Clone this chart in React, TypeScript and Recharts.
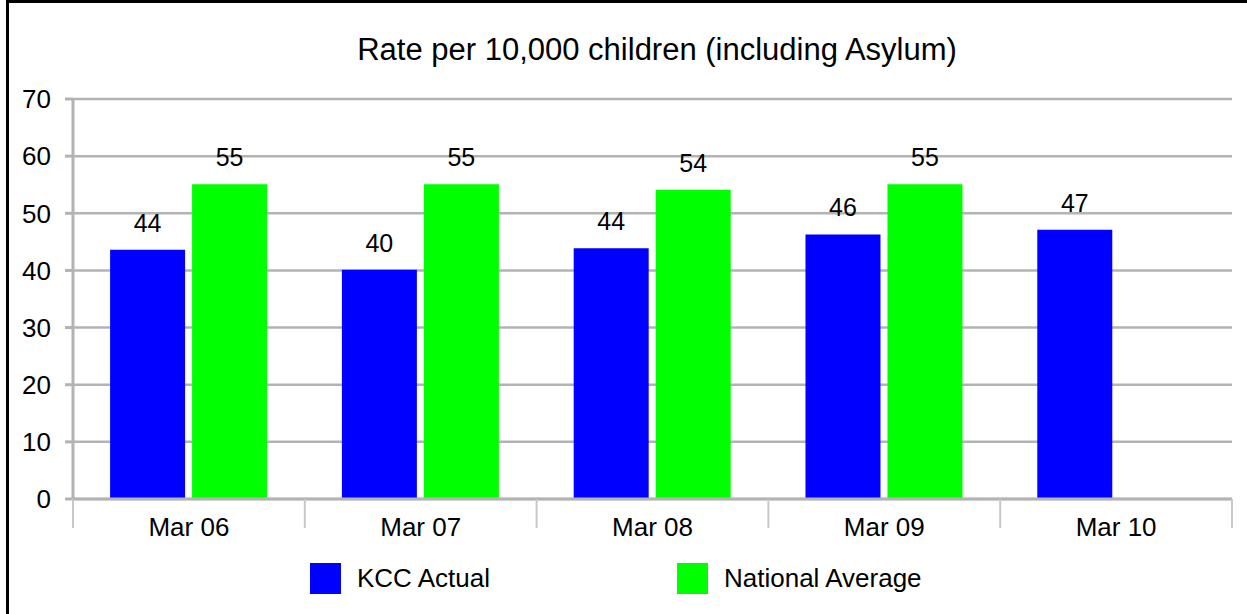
import React from 'react';
import { BarChart, Bar, XAxis, YAxis, CartesianGrid, Legend, LabelList } from 'recharts';

const periods = ['Mar 06', 'Mar 07', 'Mar 08', 'Mar 09', 'Mar 10'];
const kccActual = [43.6, 40.1, 43.9, 46.3, 47.1];
const nationalAverage: (number | null)[] = [55.1, 55.1, 54.1, 55.1, null];
const yTicks = [0, 10, 20, 30, 40, 50, 60, 70];

const series = [
    { key: 'kcc', name: 'KCC Actual', color: '#0000FF' },
    { key: 'national', name: 'National Average', color: '#00FF00' },
];

const data = periods.map((period, i) => ({
    period,
    kcc: kccActual[i],
    national: nationalAverage[i],
}));

const FONT = '"Liberation Sans", Arial, sans-serif';
const GRID = '#b3b3b3';

const CategoryTick = (props: any) => {
    const { x, y, payload, index, width, visibleTicksCount } = props;
    const half = width && visibleTicksCount ? width / visibleTicksCount / 2 : 116;
    const last = index === visibleTicksCount - 1;
    return (
        <g>
            <line x1={x - half} x2={x - half} y1={y} y2={y + 29} stroke="#c8c8c8" strokeWidth={2} />
            {last && <line x1={x + half} x2={x + half} y1={y} y2={y + 29} stroke="#c8c8c8" strokeWidth={2} />}
            <text x={x} y={y + 37} textAnchor="middle" fill="#000" fontSize={26} fontFamily={FONT}>
                {payload.value}
            </text>
        </g>
    );
};

const LegendContent = () => (
    <div style={{ display: 'flex', paddingLeft: 310, fontFamily: FONT, fontSize: 26, color: '#000' }}>
        {series.map((s) => (
            <div key={s.key} style={{ display: 'flex', alignItems: 'center', width: 367 }}>
                <span style={{ display: 'inline-block', width: 31, height: 31, background: s.color, marginRight: 16 }} />
                <span>{s.name}</span>
            </div>
        ))}
    </div>
);

const App: React.FC = () => {
    return (
        <div style={{ position: 'fixed', left: 0, top: 0, width: 1247, height: 614, overflow: 'hidden', background: '#fff', fontFamily: FONT }}>
            <div style={{ position: 'absolute', left: 6, top: 0, width: 1280, height: 660, border: '3px solid #000' }} />
            <div style={{ position: 'absolute', left: 0, top: 34, width: 1314, textAlign: 'center', fontSize: 31, lineHeight: '31px', color: '#000' }}>
                Rate per 10,000 children (including Asylum)
            </div>
            <div style={{ position: 'absolute', left: 0, top: 0 }}>
                <BarChart
                    width={1247}
                    height={614}
                    data={data}
                    margin={{ top: 99, right: 15, bottom: 25, left: 0 }}
                    barCategoryGap="16%"
                    barGap={7}
                >
                    <CartesianGrid vertical={false} stroke={GRID} strokeWidth={2.5} />
                    <XAxis
                        dataKey="period"
                        height={40}
                        axisLine={{ stroke: GRID, strokeWidth: 3 }}
                        tickLine={false}
                        tickSize={0}
                        tickMargin={0}
                        tick={<CategoryTick />}
                        interval={0}
                    />
                    <YAxis
                        width={73}
                        domain={[0, 70]}
                        ticks={yTicks}
                        axisLine={{ stroke: GRID, strokeWidth: 3 }}
                        tickLine={{ stroke: GRID, strokeWidth: 3 }}
                        tickSize={8}
                        tickMargin={14}
                        tick={{ fill: '#000', fontSize: 26, fontFamily: FONT }}
                    />
                    <YAxis
                        yAxisId="right"
                        orientation="right"
                        width={0}
                        domain={[0, 70]}
                        tick={false}
                        tickLine={false}
                        axisLine={{ stroke: GRID, strokeWidth: 3 }}
                    />
                    <Legend
                        verticalAlign="bottom"
                        height={50}
                        content={<LegendContent />}
                        wrapperStyle={{ top: 563, left: 0, width: 1247 }}
                    />
                    {series.map((s) => (
                        <Bar key={s.key} dataKey={s.key} name={s.name} fill={s.color} isAnimationActive={false}>
                            <LabelList
                                dataKey={s.key}
                                position="top"
                                offset={18}
                                fill="#000"
                                fontSize={25}
                                fontFamily={FONT}
                                formatter={(v: any) => (v == null ? '' : Math.round(Number(v)))}
                            />
                        </Bar>
                    ))}
                </BarChart>
            </div>
        </div>
    );
};

export default App;
